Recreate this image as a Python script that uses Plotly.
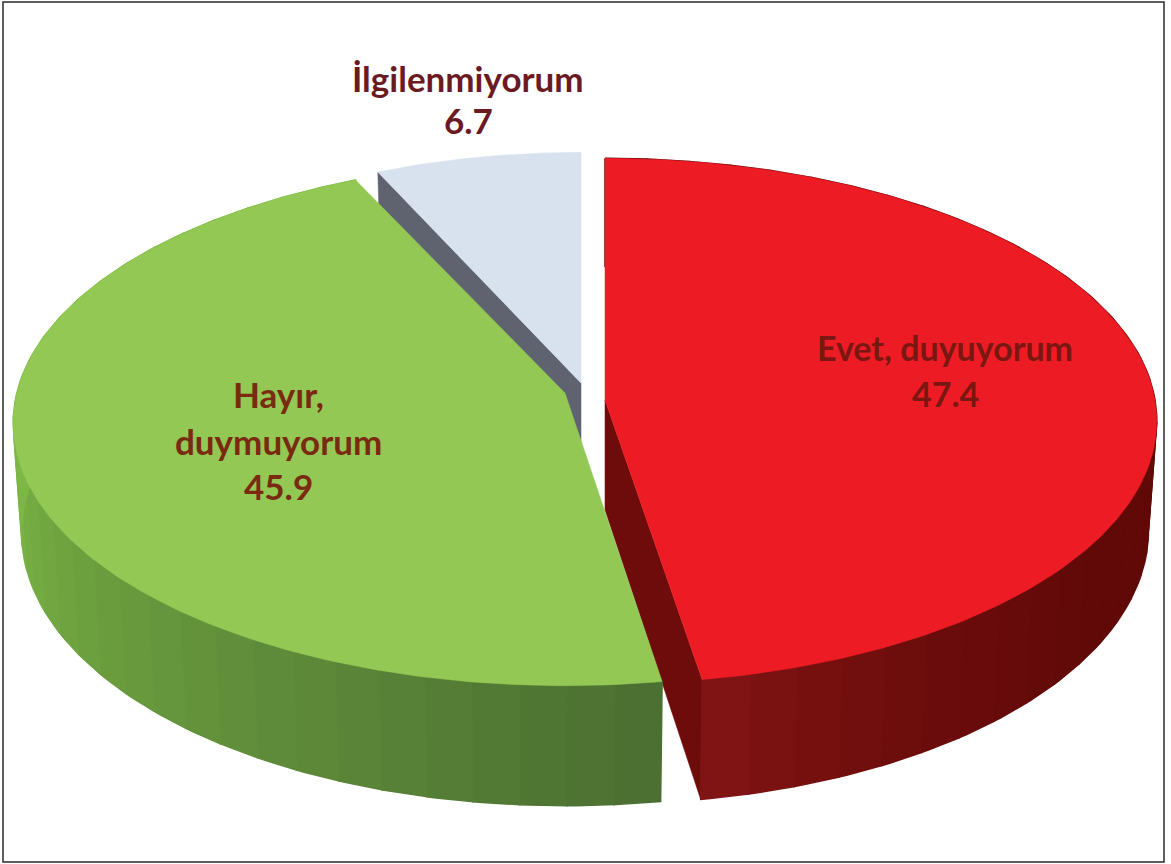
import numpy as np
import plotly.graph_objects as go

# Data
categories = ["Evet, duyuyorum", "Hayır, duymuyorum", "İlgilenmiyorum"]
values = [47.4, 45.9, 6.7]
label_lines = [["Evet, duyuyorum", "47.4"], ["Hayır,", "duymuyorum", "45.9"], ["İlgilenmiyorum", "6.7"]]

# Styling / projection of the tilted disc (pixel space of the 1171x864 page)
W, H = 1171, 864
A, B, K = 550.0, 261.0, 0.08
centres = [(605, 400, 400, 1.0), (565, 402, 393, 1.0), (581, 394, 383, 0.97)]  # cx, rim cy, apex y, x scale
tops = ["#ED1C24", "#92C853", "#D8E1EE"]
walls = ["#6E0C0C", "#4F7434", "#5F6370"]
side_from = [(96, 9, 7), (76, 112, 50), (95, 99, 112)]
side_to = [(128, 20, 20), (125, 184, 70), (95, 99, 112)]
# fraction of each slice's outer side where the shading ramp begins / ends, and its curve
ramp = [(0.53, 1.0, 3.0), (0.0, 0.6, 1.0), (0.0, 1.0, 1.0)]
label_xy = [(945, [347, 393]), (278, [394, 441, 486]), (468, [78, 120])]
label_colors = ["#7A1712", "#7A2A10", "#6B1A22"]
label_sizes = [34, 35, 35]


def project(t, cx, cy, xs=1.0, lower=False):
    u, v = np.sin(t), -np.cos(t)
    s = 1 / (1 - K * v)
    if lower:
        return cx + A * xs * u * s * 0.985, cy + B * v * s + 108 + 12 * np.clip(v, 0, 1)
    return cx + A * xs * u * s, cy + B * v * s


def poly(xs, ys, color, width=0.5):
    return go.Scatter(x=list(xs), y=list(ys), mode="lines", fill="toself", fillcolor=color,
                      line=dict(color=color, width=width), hoverinfo="skip", showlegend=False)


fracs = np.array(values) / sum(values) * 2 * np.pi
starts = np.concatenate([[0], np.cumsum(fracs)[:-1]])

layers = []
for i in range(len(values)):
    cx, cy, ay, xs = centres[i]
    t0, t1 = starts[i], starts[i] + fracs[i]
    ts = np.linspace(t0, t1, 181)
    # radial wall that faces the viewer
    rad = [t1] if i == 0 else [t0] if i == 2 else []
    wall_traces = []
    for t in rad:
        x0, y0 = project(t, cx, cy, xs)
        x1, y1 = project(t, cx, cy, xs, lower=True)
        wall_traces.append(poly([cx, x0, x1, cx, cx], [ay, y0, y1, ay + 110, ay], walls[i]))
    # curved outer side, stepped gradient
    strips = []
    if i < 2:
        edges = np.linspace(t0, t1, 37)
        r0, r1, power = ramp[i]
        for j in range(36):
            seg = np.linspace(edges[j], edges[j + 1], 6)
            xu, yu = project(seg, cx, cy, xs)
            xl, yl = project(seg, cx, cy, xs, lower=True)
            f = float(np.clip((j / 35 - r0) / (r1 - r0), 0, 1)) ** power
            c = [side_from[i][k] + (side_to[i][k] - side_from[i][k]) * f for k in range(3)]
            color = "rgb(%d,%d,%d)" % tuple(c)
            strips.append(poly(np.r_[xu, xl[::-1], xu[0]], np.r_[yu, yl[::-1], yu[0]], color, width=1.5))
    xr, yr = project(ts, cx, cy, xs)
    top = poly(np.r_[cx, xr, cx], np.r_[ay, yr, ay], tops[i])
    layers.append(wall_traces + strips + [top])

fig = go.Figure()
# painter's order: light slice, red slice, green slice
for i in (2, 0, 1):
    fig.add_traces(layers[i])

for lines, (x, ys), color, size in zip(label_lines, label_xy, label_colors, label_sizes):
    for text, y in zip(lines, ys):
        fig.add_annotation(x=x, y=y, text="<b>%s</b>" % text, showarrow=False,
                           font=dict(family="Lato", size=size, color=color),
                           xanchor="center", yanchor="middle")

fig.add_shape(type="rect", x0=3, y0=2, x1=1164, y1=862, line=dict(color="#2A2A2A", width=1.5))
fig.update_xaxes(range=[0, W], visible=False, fixedrange=True)
fig.update_yaxes(range=[H, 0], visible=False, fixedrange=True)
fig.update_layout(width=W, height=H, margin=dict(l=0, r=0, t=0, b=0),
                  paper_bgcolor="white", plot_bgcolor="white", showlegend=False)
fig.write_html("out.html", post_script="document.body.style.margin='0';", config={"displayModeBar": False})
